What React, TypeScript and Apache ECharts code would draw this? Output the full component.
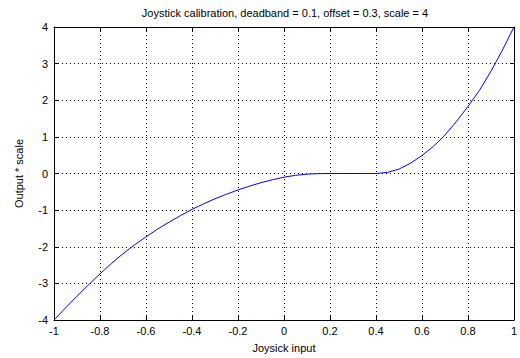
import React, { useEffect, useRef } from "react";
import * as echarts from "echarts";

const xInput: number[] = [
  -1, -0.95, -0.9, -0.85, -0.8, -0.75, -0.7, -0.65, -0.6, -0.55, -0.5, -0.45, -0.4, -0.35, -0.3,
  -0.25, -0.2, -0.15, -0.1, -0.05, 0, 0.05, 0.1, 0.15, 0.2, 0.25, 0.3, 0.35, 0.4, 0.45, 0.5, 0.55,
  0.6, 0.65, 0.7, 0.75, 0.8, 0.85, 0.9, 0.95, 1,
];
const yOutput: number[] = [
  -4, -3.67, -3.35, -3.04, -2.74, -2.455, -2.19, -1.95, -1.73, -1.52, -1.33, -1.15, -0.98, -0.83,
  -0.69, -0.565, -0.45, -0.345, -0.25, -0.17, -0.1, -0.05, -0.018, -0.004, 0, 0, 0, 0, 0, 0.03,
  0.12, 0.28, 0.49, 0.74, 1.05, 1.42, 1.83, 2.27, 2.79, 3.37, 4,
];
const titleText = "Joystick calibration, deadband = 0.1, offset = 0.3, scale = 4";
const xLabel = "Joysick input";
const yLabel = "Output * scale";

const FONT = "'Liberation Sans', Arial, sans-serif";

export default function App() {
  const ref = useRef<HTMLDivElement>(null);
  useEffect(() => {
    if (!ref.current) return;
    const chart = echarts.init(ref.current, undefined, { renderer: "svg" });
    const data = xInput.map((x, i) => [x, yOutput[i]]);
    const gridLine = { show: true, lineStyle: { color: "#000", type: [1, 3] as any, width: 1 } };
    const axisBase = {
      type: "value" as const,
      axisLine: { show: true, onZero: false, lineStyle: { color: "#000", width: 1 } },
      axisTick: { show: true, inside: true, length: 4, lineStyle: { color: "#000" } },
    };
    chart.setOption({
      animation: false,
      backgroundColor: "#fff",
      textStyle: { fontFamily: FONT },
      grid: { left: 54, right: 4, top: 27, bottom: 33, containLabel: false },
      graphic: [
        {
          type: "text",
          x: 285,
          y: 13,
          style: {
            text: titleText,
            fontFamily: FONT,
            fontSize: 11,
            fill: "#000",
            textAlign: "center",
            textVerticalAlign: "middle",
          },
        },
      ],
      xAxis: [
        {
          ...axisBase,
          position: "bottom",
          min: -1,
          max: 1,
          interval: 0.2,
          splitLine: gridLine,
          axisLabel: { color: "#000", fontSize: 11, fontFamily: FONT, margin: 5 },
          name: xLabel,
          nameLocation: "middle",
          nameGap: 22,
          nameTextStyle: { color: "#000", fontSize: 11, fontFamily: FONT },
        },
        {
          ...axisBase,
          position: "top",
          min: -1,
          max: 1,
          interval: 0.2,
          splitLine: { show: false },
          axisLabel: { show: false },
        },
      ],
      yAxis: [
        {
          ...axisBase,
          position: "left",
          min: -4,
          max: 4,
          interval: 1,
          splitLine: gridLine,
          axisLabel: { color: "#000", fontSize: 11, fontFamily: FONT, margin: 6 },
          name: yLabel,
          nameLocation: "middle",
          nameGap: 30,
          nameTextStyle: { color: "#000", fontSize: 11, fontFamily: FONT },
        },
        {
          ...axisBase,
          position: "right",
          min: -4,
          max: 4,
          interval: 1,
          splitLine: { show: false },
          axisLabel: { show: false },
        },
      ],
      series: [
        {
          type: "line",
          data,
          showSymbol: false,
          smooth: false,
          lineStyle: { color: "#0000ff", width: 1 },
          itemStyle: { color: "#0000ff" },
          xAxisIndex: 0,
          yAxisIndex: 0,
        },
      ],
    });
    return () => chart.dispose();
  }, []);
  return <div ref={ref} style={{ width: 520, height: 358, position: "absolute", left: 0, top: 0 }} />;
}
